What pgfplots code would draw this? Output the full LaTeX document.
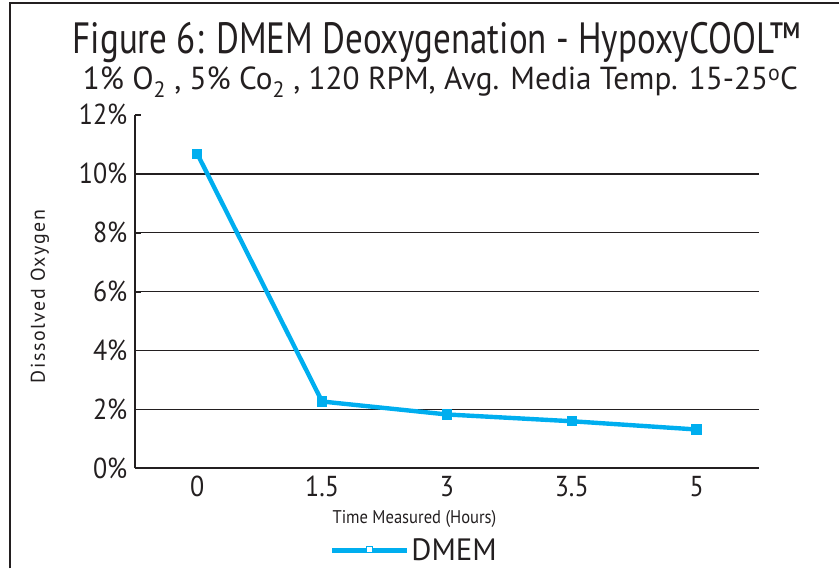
\documentclass[border=0pt]{standalone}
\usepackage{pgfplots}
\pgfplotsset{compat=1.18}
\usepackage{fontspec}
\setmainfont{PT Sans}
\newfontfamily\condA[FakeStretch=0.8]{PT Sans}
\newfontfamily\condB[FakeStretch=0.9]{PT Sans}
\newfontfamily\condC[FakeStretch=0.98]{PT Sans}
\newfontfamily\spaced[LetterSpace=8]{PT Sans}

\definecolor{dmem}{HTML}{00AEEF}
\definecolor{ink}{HTML}{231F20}

\begin{document}
\begin{tikzpicture}[x=1bp,y=1bp]
% page: 840 x 569
\path (0,0) rectangle (840,569);
\draw[ink, line width=2.2bp] (10,0) -- (10,566) -- (840,566);

\node[anchor=base, inner sep=0pt, ink, font=\condA\fontsize{44}{48}\selectfont] at (437,515) {Figure 6: DMEM Deoxygenation - HypoxyCOOL™};
\node[anchor=base, inner sep=0pt, ink, font=\condC\fontsize{32}{36}\selectfont] at (441,479)
  {1\% O\textsubscript{2} , 5\% Co\textsubscript{2} , 120 RPM, Avg. Media Temp. 15-25\textsuperscript{o}C};
\node[rotate=90, ink, font=\spaced\fontsize{20}{22}\selectfont] at (40,272) {Dissolved Oxygen};
\node[ink, font=\condB\fontsize{18.5}{22}\selectfont] at (415,49) {Time Measured (Hours)};

\begin{axis}[
  at={(135bp,100bp)}, anchor=south west,
  scale only axis, width=625bp, height=354bp,
  xmin=-0.5, xmax=4.5, ymin=0, ymax=12,
  axis x line*=bottom, axis y line*=left,
  axis line style={ink, line width=1.8bp},
  tick align=inside,
  xtick={0,...,4}, xticklabels={0,1.5,3,3.5,5},
  x tick style={draw=none},
  extra x ticks={-0.5,0.5,1.5,2.5,3.5,4.5}, extra x tick labels={},
  extra x tick style={major tick length=7bp, tick style={ink, line width=1.8bp, draw=ink}},
  ytick={0,2,...,12}, yticklabels={0\%,2\%,4\%,6\%,8\%,10\%,12\%},
  y tick style={ink, line width=1.8bp},
  major tick length=6bp,
  extra y ticks={2,4,6,8,10}, extra y tick labels={},
  extra y tick style={grid=major, major tick length=0bp},
  major grid style={ink, line width=1.6bp},
  ticklabel style={ink, font=\condB\fontsize{29}{31}\selectfont},
  yticklabel style={xshift=-4bp},
  xticklabel style={yshift=-4bp},
  legend style={at={(rel axis cs:0.448,-0.232)}, anchor=center, draw=none, fill=none,
    font=\fontsize{31}{33}\selectfont, text=ink, inner sep=0pt},
  legend image code/.code={%
    \draw[#1, mark=none] (0bp,0bp) -- (75bp,0bp);
    \draw[#1, mark options={fill=white, line width=1bp}] plot coordinates {(37bp,1bp)};},
]
\addplot[dmem, line width=4.4bp, mark=square*, mark size=3bp, mark options={solid}]
  coordinates {(0,10.68) (1,2.27) (2,1.83) (3,1.60) (4,1.32)};
\addlegendentry{DMEM}
\end{axis}
\end{tikzpicture}
\end{document}
